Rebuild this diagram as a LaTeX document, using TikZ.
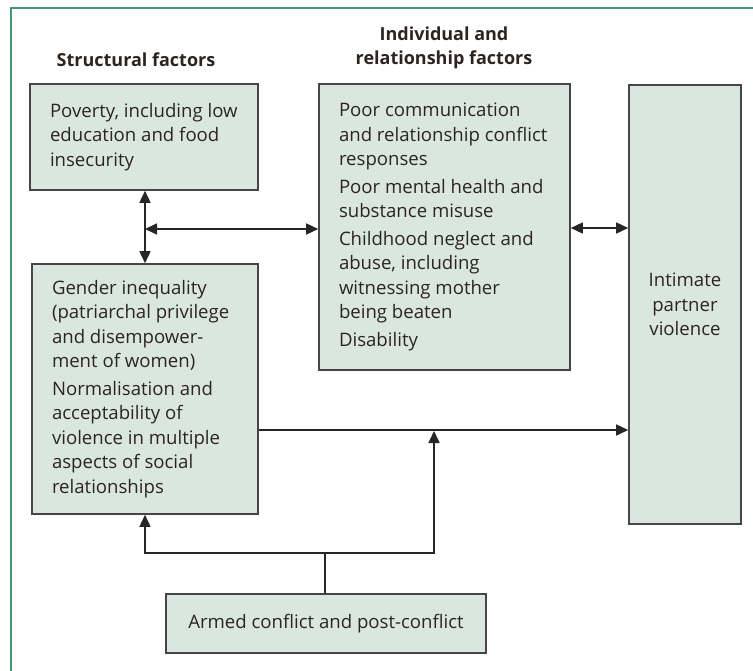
\documentclass[tikz,border=0pt]{standalone}
\usepackage{fontspec}
\setmainfont{Open Sans}
\usetikzlibrary{arrows.meta}
\definecolor{boxfill}{RGB}{218,231,225}
\definecolor{boxline}{RGB}{70,70,70}
\definecolor{frame}{RGB}{70,150,115}
\definecolor{ink}{RGB}{45,36,32}
\tikzstyle{factor}=[draw=boxline, line width=1.6pt, fill=boxfill, inner sep=0pt, text=ink, font=\fontsize{18.6}{24.5}\selectfont]
\tikzstyle{head}=[text=ink, font=\fontsize{18}{24}\selectfont\bfseries, align=center]
\tikzstyle{link}=[line width=1.6pt, draw=black!85, -{Triangle[length=12pt,width=11pt]}]
\tikzstyle{dbl}=[link, {Triangle[length=12pt,width=11pt]}-{Triangle[length=12pt,width=11pt]}]

\begin{document}
\begin{tikzpicture}[x=1pt, y=-1pt]
    \useasboundingbox (0,0) rectangle (753,670);
% Frame
    \draw[frame, line width=1.5pt] (11,672) -- (11,8) -- (755,8);
% Headings
    \node[head] (hs) at (136,60) {Structural factors};
    \node[head] (hi) at (444,48) {Individual and\\relationship factors};
% Boxes
    \node[factor, minimum width=228pt, minimum height=106pt] (pov) at (144,137)
        {\parbox{188pt}{\hbadness=10000 Poverty, including low\\education and food\\insecurity}};
    \node[factor, minimum width=251pt, minimum height=286pt] (ind) at (444.5,227)
        {\parbox{211pt}{Poor communication\\and relationship conflict\\responses\\[3pt]
        Poor mental health and\\substance misuse\\[3pt]
        Childhood neglect and\\abuse, including\\witnessing mother\\being beaten\\[3pt]
        Disability}};
    \node[factor, minimum width=226pt, minimum height=250pt] (gen) at (145,389)
        {\parbox{186pt}{Gender inequality\\(patriarchal privilege\\and disempower-\\ment of women)\\[3pt]
        Normalisation and\\acceptability of\\violence in multiple\\aspects of social\\relationships}};
    \node[factor, minimum width=112pt, minimum height=439pt, align=center] (ipv) at (685,304.5)
        {Intimate\\partner\\violence};
    \node[factor, minimum width=320pt, minimum height=59pt] (arm) at (326,623.5)
        {Armed conflict and post-conflict};
% Links
    \coordinate (j) at (145,229);
    \draw[dbl] (pov.south -| j) -- (gen.north -| j);
    \draw[dbl] (j) -- (ind.west |- j);
    \draw[dbl] (ind.east |- 0,228) -- (ipv.west |- 0,228);
    \draw[link] (gen.east |- 0,430) -- (ipv.west |- 0,430);
    \coordinate (split) at (325,553);
    \coordinate (meet) at (434,431);
    \draw[line width=1.6pt, draw=black!85] (arm.north -| split) -- (split);
    \draw[link] (split) -| (gen.south -| j);
    \draw[link] (split) -| (meet);
\end{tikzpicture}
\end{document}
